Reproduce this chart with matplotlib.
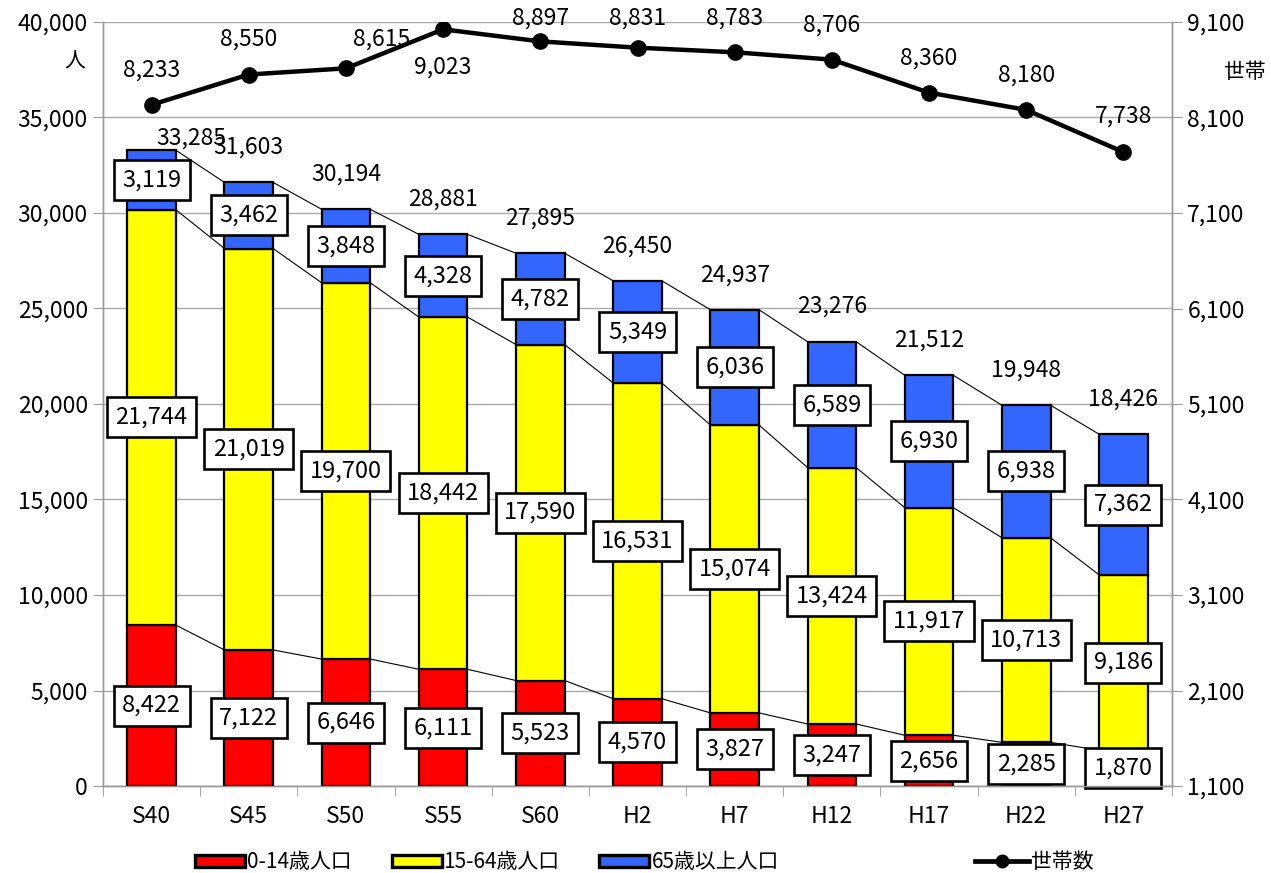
import matplotlib
matplotlib.use("Agg")
import matplotlib.pyplot as plt
from matplotlib.patches import Patch
from matplotlib.lines import Line2D
import numpy as np

plt.rcParams['font.family'] = ['Noto Sans CJK JP', 'DejaVu Sans']

categories = ["S40", "S45", "S50", "S55", "S60", "H2", "H7", "H12", "H17", "H22", "H27"]
pop_0_14 = [8422, 7122, 6646, 6111, 5523, 4570, 3827, 3247, 2656, 2285, 1870]
pop_15_64 = [21744, 21019, 19700, 18442, 17590, 16531, 15074, 13424, 11917, 10713, 9186]
pop_65 = [3119, 3462, 3848, 4328, 4782, 5349, 6036, 6589, 6930, 6938, 7362]
totals = [33285, 31603, 30194, 28881, 27895, 26450, 24937, 23276, 21512, 19948, 18426]
households = [8233, 8550, 8615, 9023, 8897, 8831, 8783, 8706, 8360, 8180, 7738]

legend_labels = ["0-14歳人口", "15-64歳人口", "65歳以上人口", "世帯数"]
colors = ["#ff0000", "#ffff00", "#3366ff"]

# label offsets (pixels) for household labels
hh_dx = [0, 0, 36, 0, 0, 0, 0, 0, 0, 0, 0]
hh_dy = [35, 35, 29, -38, 23, 30, 34, 35, 35, 35, 36]
tot_dx = [40, 0, 0, 0, 0, 0, 0, 0, 0, 0, 0]
tot_dy = [12, 35, 35, 35, 35, 35, 35, 35, 35, 35, 35]

W, H = 1271, 873
fig = plt.figure(figsize=(W / 100, H / 100), dpi=100)
ax = fig.add_axes([103 / W, 1 - 786 / H, (1172 - 103) / W, (786 - 22) / H])
ax2 = ax.twinx()

x = np.arange(len(categories))
bw = 0.5
a = np.array(pop_0_14)
b = np.array(pop_15_64)
c = np.array(pop_65)

ax.bar(x, a, bw, color=colors[0], edgecolor="black", linewidth=1.6, zorder=3)
ax.bar(x, b, bw, bottom=a, color=colors[1], edgecolor="black", linewidth=1.6, zorder=3)
ax.bar(x, c, bw, bottom=a + b, color=colors[2], edgecolor="black", linewidth=1.6, zorder=3)

# series lines
for lvl in [a, a + b, a + b + c]:
    for i in range(len(x) - 1):
        ax.plot([x[i] + bw / 2, x[i + 1] - bw / 2], [lvl[i], lvl[i + 1]],
                color="black", lw=0.8, zorder=2)

box = dict(boxstyle="square,pad=0.36", fc="white", ec="black", lw=1.9)
fs = 16.5
bfs = 17
for i in range(len(x)):
    for bottom, val in [(0, a[i]), (a[i], b[i]), (a[i] + b[i], c[i])]:
        ax.text(x[i], bottom + val / 2, f"{val:,}", ha="center", va="center",
                fontsize=bfs, bbox=box, zorder=5)
    ax.annotate(f"{totals[i]:,}", (x[i], totals[i]), xytext=(tot_dx[i] * 0.72, tot_dy[i] * 0.72),
                textcoords="offset points", ha="center", va="center", fontsize=fs, zorder=6)

ax.set_xlim(-0.5, len(x) - 0.5)
ax.set_ylim(0, 40000)
ax.set_yticks(np.arange(0, 40001, 5000))
ax.set_yticklabels([f"{v:,}" for v in range(0, 40001, 5000)])
ax.set_xticks(x)
ax.set_xticklabels(categories)
ax.set_xticks(np.arange(-0.5, len(x), 1), minor=True)
ax.tick_params(axis="x", which="major", length=0, pad=14, labelsize=fs)
ax.tick_params(axis="x", which="minor", length=7, color="#999999", direction="out")
ax.tick_params(axis="y", length=7, color="#999999", labelsize=fs, pad=4)
ax.grid(axis="y", color="#aaaaaa", lw=1, zorder=0)
ax.set_axisbelow(True)

ax2.plot(x, households, color="black", lw=3.2, marker="o", markersize=11, zorder=4)
ax2.set_ylim(1100, 9100)
ax2.set_yticks(np.arange(1100, 9101, 1000))
ax2.set_yticklabels([f"{v:,}" for v in range(1100, 9101, 1000)])
ax2.tick_params(axis="y", length=7, color="#999999", labelsize=fs, pad=4)
for i in range(len(x)):
    ax2.annotate(f"{households[i]:,}", (x[i], households[i]),
                 xytext=(hh_dx[i] * 0.72, hh_dy[i] * 0.72), textcoords="offset points",
                 ha="center", va="center", fontsize=fs, zorder=6)

for a_ in (ax, ax2):
    a_.spines["top"].set_visible(False)
    for s in ["left", "right", "bottom"]:
        a_.spines[s].set_color("#999999")
        a_.spines[s].set_linewidth(1)

fig.text(75 / W, 1 - 62 / H, "人", fontsize=15, ha="center", va="center")
fig.text(1245 / W, 1 - 72 / H, "世帯", fontsize=15, ha="center", va="center")

handles = [Patch(facecolor=colors[k], edgecolor="black", linewidth=2.4) for k in range(3)]
fig.legend(handles, legend_labels[:3], loc="center", bbox_to_anchor=(487 / W, 1 - 862 / H),
           ncol=3, frameon=False, fontsize=15, handlelength=2.4, handleheight=0.5,
           handletextpad=0.1, columnspacing=1.9)
lh = [Line2D([0], [0], color="black", lw=3.4, marker="o", markersize=9)]
fig.legend(lh, legend_labels[3:], loc="center", bbox_to_anchor=(1034 / W, 1 - 862 / H),
           frameon=False, fontsize=15, handlelength=2.6, handletextpad=0.1)

fig.savefig("out.png", dpi=100)
